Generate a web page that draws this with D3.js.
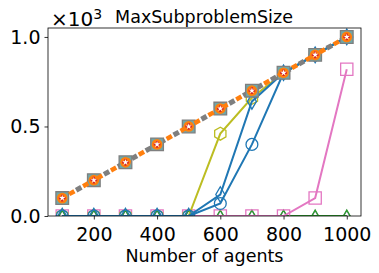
<!DOCTYPE html>
<html>
<head>
<meta charset="utf-8">
<script src="https://cdn.jsdelivr.net/npm/d3@7"></script>
<style>
  body { margin: 0; background: #fff; }
  svg { font-family: "DejaVu Sans", sans-serif; }
</style>
</head>
<body>
<svg id="chart"></svg>
<script>
// agents on the x axis
const agents = [100, 200, 300, 400, 500, 600, 700, 800, 900, 1000];
const xTicks = [200, 400, 600, 800, 1000];
const yTicks = [0, 0.5, 1.0];

// max subproblem size per method
const sizeAll      = [100, 200, 300, 400, 500, 600, 700, 800, 900, 1000];
const sizeHexagon  = [0, 0, 0, 0, 0, 460, 660, 800, 900, 1000];
const sizeDiamond  = [0, 0, 0, 0, 0, 120, 640, 800, 900, 1000];
const sizeCircle   = [0, 0, 0, 0, 0, 70, 400, 800, 900, 1000];
const sizeSquare   = [0, 0, 0, 0, 0, 0, 0, 0, 100, 820];
const sizeZeroA    = [0, 0, 0, 0, 0, 0, 0, 0, 0, 0];
const sizeZeroB    = [0, 0, 0, 0, 0, 0, 0, 0, 0, 0];

const width = 379, height = 273;
const margin = { top: 28, right: 18, bottom: 57, left: 48 };
const plotWidth = width - margin.left - margin.right;
const plotHeight = height - margin.top - margin.bottom;

const svg = d3.select("#chart").attr("width", width).attr("height", height);

const x = d3.scaleLinear().domain([55, 1045]).range([0, plotWidth]);
const y = d3.scaleLinear().domain([0, 1.05]).range([plotHeight, 0]);

svg.append("defs").append("clipPath").attr("id", "clip")
  .append("rect").attr("width", plotWidth).attr("height", plotHeight);

const plot = svg.append("g").attr("transform", `translate(${margin.left},${margin.top})`);
const marks = plot.append("g").attr("clip-path", "url(#clip)");

const line = d3.line().x(d => x(d[0])).y(d => y(d[1] / 1000));

const hexagon = {
  draw(ctx, size) {
    const r = Math.sqrt(size / 2.6);
    for (let i = 0; i < 6; i++) {
      const a = Math.PI / 6 + i * Math.PI / 3;
      const px = r * Math.cos(a), py = r * Math.sin(a);
      if (i === 0) ctx.moveTo(px, py); else ctx.lineTo(px, py);
    }
    ctx.closePath();
  }
};

const series = [
  { vals: sizeZeroB, color: "#9467bd", width: 2, symbol: d3.symbolTriangle, size: 40, fill: "none" },
  { vals: sizeZeroA, color: "#2ca02c", width: 2, symbol: d3.symbolDiamond, size: 40, fill: "none" },
  { vals: sizeSquare, color: "#e377c2", width: 2, symbol: d3.symbolSquare, size: 150, fill: "none" },
  { vals: sizeHexagon, color: "#bcbd22", width: 2, symbol: hexagon, size: 110, fill: "none" },
  { vals: sizeCircle, color: "#1f77b4", width: 2, symbol: d3.symbolCircle, size: 110, fill: "none" },
  { vals: sizeDiamond, color: "#1f77b4", width: 2, symbol: d3.symbolDiamond, size: 70, fill: "none" },
  { vals: sizeAll, color: "#7f7f7f", width: 5, dash: "6,10", symbol: d3.symbolSquare, size: 160, fill: "#6fa8a8", stroke: "#7f7f7f" },
  { vals: sizeAll, color: "#ff7f0e", width: 4.5, dash: "6,10", dashOffset: -8, symbol: d3.symbolCircle, size: 90, fill: "#ff7f0e" },
  { vals: sizeAll, color: "#d62728", width: 0, symbol: d3.symbolCross, size: 25, fill: "#d62728" },
  { vals: sizeAll, color: "#ffffff", width: 0, symbol: d3.symbolStar, size: 12, fill: "#ffffff" }
];

series.forEach(s => {
  const pts = agents.map((a, i) => [a, s.vals[i]]);
  if (s.width > 0) {
    marks.append("path")
      .attr("d", line(pts))
      .attr("fill", "none")
      .attr("stroke", s.color)
      .attr("stroke-width", s.width)
      .attr("stroke-dasharray", s.dash || null)
      .attr("stroke-dashoffset", s.dashOffset || 0);
  }
  const sym = d3.symbol().type(s.symbol).size(s.size);
  marks.append("g").selectAll("path")
    .data(pts)
    .enter()
    .append("path")
    .attr("transform", d => `translate(${x(d[0])},${y(d[1] / 1000)})`)
    .attr("d", sym)
    .attr("fill", s.fill)
    .attr("stroke", s.fill === "none" ? s.color : (s.stroke || "none"))
    .attr("stroke-width", 1.3);
});

// axes
const xAxis = plot.append("g")
  .attr("transform", `translate(0,${plotHeight})`)
  .call(d3.axisBottom(x).tickValues(xTicks).tickSize(3.5).tickPadding(8).tickFormat(d3.format("d")));
const yAxis = plot.append("g")
  .call(d3.axisLeft(y).tickValues(yTicks).tickSize(3.5).tickPadding(4).tickFormat(d3.format(".1f")));
[xAxis, yAxis].forEach(a => {
  a.select(".domain").remove();
  a.selectAll("line").attr("stroke", "#000").attr("stroke-width", 0.8);
  a.selectAll("text").attr("font-size", 19).attr("fill", "#000").attr("font-family", "DejaVu Sans");
});

plot.append("rect")
  .attr("width", plotWidth).attr("height", plotHeight)
  .attr("fill", "none").attr("stroke", "#000").attr("stroke-width", 0.8);

// offset text
const off = svg.append("text")
  .attr("x", 51).attr("y", 26)
  .attr("font-size", 20).attr("fill", "#000");
off.append("tspan").text("×10");
off.append("tspan").attr("dy", -7).attr("font-size", 14).text("3");

svg.append("text")
  .attr("x", 204).attr("y", 23)
  .attr("text-anchor", "middle")
  .attr("font-size", 17.5)
  .text("MaxSubproblemSize");

svg.append("text")
  .attr("x", margin.left + plotWidth / 2).attr("y", 262)
  .attr("text-anchor", "middle")
  .attr("font-size", 17.5)
  .text("Number of agents");
</script>
</body>
</html>
